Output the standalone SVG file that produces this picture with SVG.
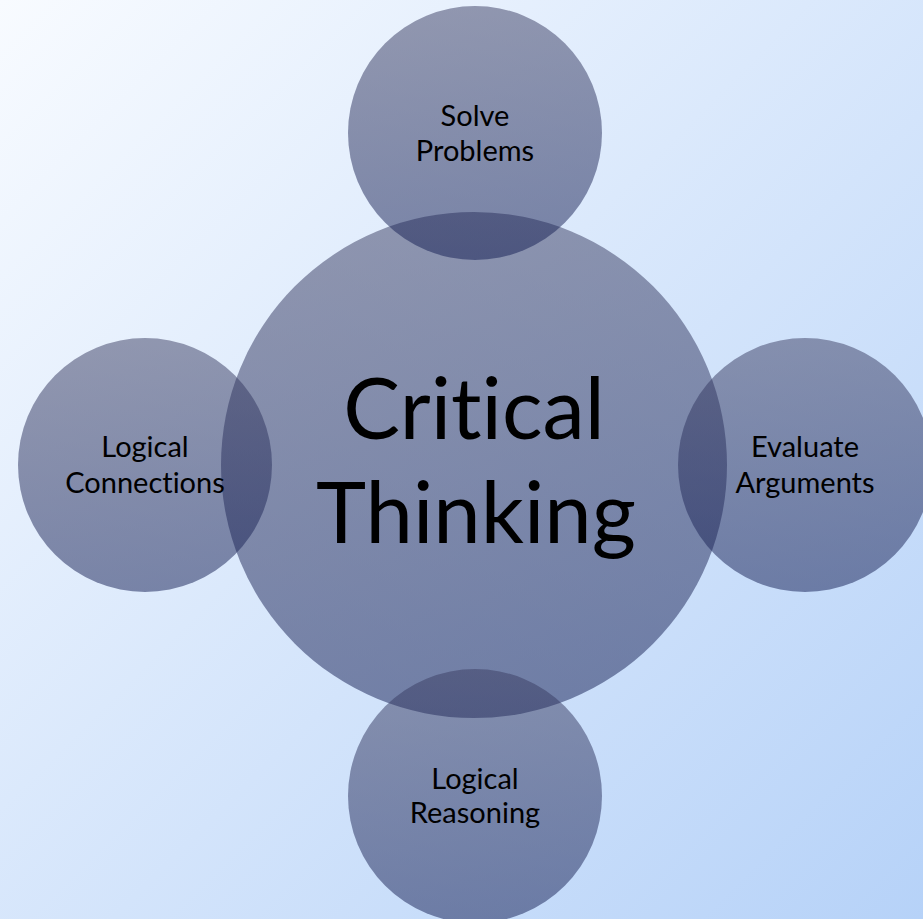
<svg xmlns="http://www.w3.org/2000/svg" width="923" height="919" viewBox="0 0 923 919">
<defs>
<linearGradient id="bg" x1="0" y1="0" x2="1" y2="1">
<stop offset="0" stop-color="#f8fbff"/>
<stop offset="1" stop-color="#b6d2f8"/>
</linearGradient>
<linearGradient id="cg" x1="0" y1="0" x2="0" y2="1">
<stop offset="0" stop-color="#3a3d62"/>
<stop offset="1" stop-color="#121c52"/>
</linearGradient>
<style>
.c{fill:url(#cg);fill-opacity:0.5}
.t{font-family:Lato,"Open Sans","Noto Sans",sans-serif;fill:#000;text-anchor:middle;font-variant-ligatures:none;font-feature-settings:"liga" 0,"clig" 0,"dlig" 0}
.s{font-size:29px}
.b{font-size:85px}
</style>
</defs>
<rect width="923" height="919" fill="url(#bg)"/>
<g id="center">
<circle class="c" cx="474" cy="465" r="253"/>
<text class="t b" x="474" y="439">Critical</text>
<text class="t b" x="476" y="543">Thinking</text>
</g>
<g id="top">
<circle class="c" cx="475" cy="133" r="127"/>
<text class="t s" x="475" y="126">Solve</text>
<text class="t s" x="475" y="161">Problems</text>
</g>
<g id="left">
<circle class="c" cx="145" cy="465" r="127"/>
<text class="t s" x="145" y="457">Logical</text>
<text class="t s" x="145" y="493">Connections</text>
</g>
<g id="right">
<circle class="c" cx="805" cy="465" r="127"/>
<text class="t s" x="805" y="457">Evaluate</text>
<text class="t s" x="805" y="493">Arguments</text>
</g>
<g id="bottom">
<circle class="c" cx="475" cy="796" r="127"/>
<text class="t s" x="475" y="789">Logical</text>
<text class="t s" x="475" y="823">Reasoning</text>
</g>
<g id="connectors"/>
</svg>
